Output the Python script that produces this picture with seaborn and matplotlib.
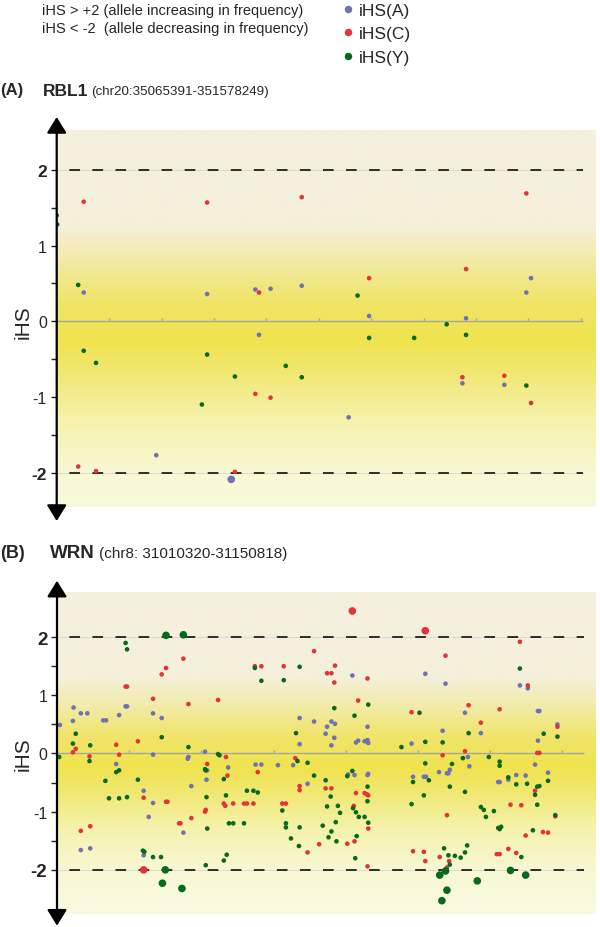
import numpy as np
import pandas as pd
import matplotlib
matplotlib.use('Agg')
import matplotlib.pyplot as plt
import seaborn as sns
from matplotlib.colors import LinearSegmentedColormap
from matplotlib.lines import Line2D

sns.set_style('white')
plt.rcParams['font.family'] = ['Liberation Sans', 'DejaVu Sans']
plt.rcParams['lines.scale_dashes'] = False

# ---------------- data ----------------
allele_labels = ['iHS(A)', 'iHS(C)', 'iHS(Y)']
allele_colors = ['#7070B4', '#E5323A', '#07691B']

# (A) RBL1: (position along gene in tick units, iHS)
rbl1_a = [(0.515, 0.38), (2.87, 0.36), (3.79, 0.42), (4.08, 0.43), (4.675, 0.47),
          (9.05, 0.57), (8.96, 0.38), (5.96, 0.07), (7.81, 0.04), (1.90, -1.77),
          (3.33, -2.09), (3.86, -0.18), (5.57, -1.27), (7.74, -0.82), (8.54, -0.84)]
rbl1_c = [(0.515, 1.58), (2.87, 1.57), (3.86, 0.38), (4.675, 1.64), (8.96, 1.69),
          (7.81, 0.69), (5.96, 0.57), (0.41, -1.92), (0.75, -1.98), (3.40, -1.99),
          (3.79, -0.96), (4.08, -1.01), (7.74, -0.74), (8.54, -0.72), (9.05, -1.08)]
rbl1_y = [(0.00, 1.40), (0.01, 1.28), (0.41, 0.48), (5.74, 0.34), (7.44, -0.04),
          (0.515, -0.39), (0.75, -0.55), (2.77, -1.10), (2.87, -0.44), (3.40, -0.73),
          (4.37, -0.59), (4.675, -0.74), (5.96, -0.22), (6.82, -0.22), (7.81, -0.18),
          (8.96, -0.85)]

# (B) WRN
wrn_a = [(0.04, 0.49), (0.23, 0.79), (0.22, 0.56), (0.33, 0.69), (0.42, 0.69),
         (0.64, 0.57), (0.68, 0.57), (0.86, 0.66), (0.95, 0.81), (0.97, 0.81),
         (1.33, 0.69), (1.45, 0.61), (3.36, 0.61), (3.36, 0.16),
         (0.33, -1.66), (0.46, -1.63), (0.82, -0.18), (1.20, -0.64), (1.27, -1.09),
         (1.20, -1.75), (1.33, -0.02), (1.33, -0.85), (1.75, -1.36), (1.82, -0.06),
         (1.81, -0.09), (1.86, -0.56), (2.05, 0.03), (2.08, -0.29), (2.07, -0.45),
         (2.37, -0.24), (2.75, -0.19), (2.83, -0.19), (3.06, -0.20), (3.27, -0.20),
         (3.56, 0.55), (3.80, 0.55), (3.85, 0.51), (3.74, 0.46), (3.72, 0.34),
         (3.84, 0.27), (3.80, 0.14), (4.09, 1.34), (4.30, 0.46), (4.14, 0.19),
         (4.17, 0.22), (4.26, 0.21), (4.30, 0.23), (4.31, 0.18), (4.91, 0.17),
         (5.10, 1.37), (5.38, 1.20), (5.34, 0.39), (5.65, 0.70), (5.87, 0.35),
         (6.41, 1.17), (6.52, 1.12), (6.66, 0.73), (6.68, 0.73), (6.66, 0.22),
         (6.93, 0.50),
         (5.69, -0.06), (5.71, -0.22), (5.44, -0.28), (5.40, -0.34), (5.42, -0.34),
         (5.29, -0.32), (5.08, -0.40), (5.11, -0.40), (4.93, -0.40), (6.11, -0.49),
         (6.13, -0.49), (6.25, -0.45), (6.36, -0.37), (6.49, -0.38), (6.80, -0.33),
         (6.62, -0.19),
         (3.47, -0.52), (4.03, -0.36), (4.12, -0.37), (4.30, -0.37), (4.31, -0.35)]
wrn_c = [(0.22, 0.02), (0.26, 0.08), (0.82, 0.15), (0.95, 1.15), (0.97, 1.15),
         (1.12, 0.21), (1.33, 0.94), (1.75, 1.63), (1.51, 1.47), (1.45, 1.36),
         (1.82, 0.85), (2.23, 0.92), (2.74, 1.50), (2.83, 1.50), (3.14, 1.50),
         (0.45, -0.05), (0.33, -1.33), (0.46, -1.25), (0.86, -0.02), (1.20, -0.76),
         (1.20, -2.00), (1.51, -0.83), (1.53, -0.83), (1.69, -1.20), (1.71, -1.20),
         (1.86, -1.11), (2.08, -0.18), (2.06, -0.97), (2.05, -1.00), (2.34, -0.06),
         (2.36, -0.38), (2.31, -0.86), (2.33, -0.90), (2.44, -0.86), (2.59, -0.86),
         (2.63, -0.86), (2.72, -0.86), (2.78, -0.32), (3.30, -0.08), (3.12, -0.86),
         (3.17, -0.86), (3.36, -0.56), (3.36, -0.63),
         (3.56, 1.76), (3.74, 1.38), (3.80, 1.38), (3.85, 1.51), (3.84, 1.22),
         (4.09, 2.45), (4.30, 1.29), (4.17, 0.91), (4.91, 0.71), (5.10, 2.11),
         (5.38, 1.68), (5.70, 0.83), (5.87, 0.53), (6.13, 0.76), (6.41, 1.92),
         (6.52, 1.17), (6.93, 0.46),
         (5.34, -0.03), (5.65, 0.04), (5.40, -1.06), (4.93, -1.68), (5.08, -1.69),
         (5.10, -1.85), (5.30, -1.78), (5.43, -1.85), (5.40, -1.96), (6.28, -0.88),
         (6.43, -0.89), (6.09, -1.73), (6.13, -1.73), (6.25, -1.64), (6.36, -1.71),
         (6.49, -1.41), (6.73, -1.35), (6.80, -1.36), (6.62, -0.64), (6.65, 0.01),
         (6.68, 0.01), (6.90, -1.08),
         (3.47, -1.70), (3.63, -1.56), (3.72, -0.60), (3.80, -0.60), (4.14, -0.68),
         (4.11, -0.90), (4.26, -0.68), (4.29, -0.70), (4.31, -0.72), (4.31, -1.29),
         (4.12, -1.51), (4.02, -1.55), (4.30, -1.94)]
wrn_y = [(0.26, 0.34), (0.22, 0.17), (0.46, 0.14), (0.95, 1.90), (0.97, 1.79),
         (1.51, 2.03), (1.75, 2.04), (1.45, 0.28), (1.82, 0.11), (2.74, 1.47),
         (2.83, 1.25), (3.14, 1.26), (3.36, 1.49), (3.31, 0.35),
         (0.03, -0.06), (0.45, -0.13), (0.67, -0.47), (0.72, -0.77), (0.82, -0.32),
         (0.86, -0.29), (0.86, -0.77), (0.97, -0.75), (1.12, -0.45), (1.19, -1.67),
         (1.21, -1.69), (1.33, -1.78), (1.44, -1.78), (1.50, -2.00), (1.46, -2.23),
         (1.73, -2.32), (2.05, -0.27), (2.06, -0.29), (2.07, -0.75), (2.08, -1.29),
         (2.06, -1.92), (2.23, -0.01), (2.25, -0.03), (2.31, -0.44), (2.34, -0.72),
         (2.38, -1.20), (2.44, -1.20), (2.31, -1.84), (2.35, -1.74), (2.59, -1.20),
         (2.63, -0.64), (2.72, -0.64), (2.78, -0.67), (3.33, -0.13), (3.12, -0.98),
         (3.17, -1.20), (3.17, -1.27), (3.24, -1.46), (3.35, -1.59), (3.36, -1.27),
         (3.84, 0.78), (4.31, 0.84), (4.12, 0.65), (4.77, 0.11), (5.02, 0.70),
         (5.10, 0.20), (5.34, 0.19), (5.70, 0.35), (6.41, 1.46), (6.74, 0.34),
         (6.93, 0.29),
         (5.62, -0.08), (5.98, -0.06), (5.47, -0.18), (5.10, -0.17), (4.93, -0.49),
         (5.15, -0.46), (5.08, -0.72), (4.91, -0.87), (5.44, -0.57), (5.65, -0.66),
         (5.36, -1.63), (5.42, -1.75), (5.51, -1.76), (5.59, -1.79), (5.65, -1.70),
         (5.68, -1.58), (5.44, -1.91), (5.30, -2.09), (5.38, -2.02), (5.40, -2.35),
         (5.33, -2.53), (5.82, -2.19), (6.28, -2.01), (6.49, -2.09), (5.87, -0.92),
         (5.91, -0.97), (5.94, -1.09), (6.05, -0.99), (6.13, -0.14), (6.13, -0.21),
         (6.25, -0.41), (6.36, -0.53), (6.51, -0.52), (6.11, -1.28), (6.13, -1.30),
         (6.15, -1.26), (6.43, -1.78), (6.59, -1.32), (6.65, -0.88), (6.62, -0.71),
         (6.65, -0.57), (6.68, -0.56), (6.80, -0.47), (6.90, -1.06),
         (3.47, -0.16), (3.56, -0.38), (3.68, -1.24), (3.72, -0.46), (3.79, -0.74),
         (3.74, -0.91), (3.89, -0.90), (3.92, -1.02), (3.86, -1.18), (3.80, -1.34),
         (3.76, -1.44), (3.87, -1.51), (4.02, -0.39), (4.09, -0.30), (4.10, -0.94),
         (4.14, -1.01), (4.18, -1.09), (4.26, -1.09), (4.30, -0.57), (4.30, -0.82),
         (4.31, -1.19), (4.15, -1.42), (4.13, -1.80)]

rbl1_ticks = list(range(1, 11))
wrn_ticks = list(range(1, 8))
ytick_vals = [-2, -1, 0, 1, 2]
ytick_labels = ['-2', '-1', '0', '1', '2']
minor_vals = [-1.5, -0.5, 0.5, 1.5]


def make_frame(groups):
    parts = []
    for label, pts in zip(allele_labels, groups):
        d = pd.DataFrame(pts, columns=['pos', 'ihs'])
        d['allele'] = label
        parts.append(d)
    df = pd.concat(parts, ignore_index=True)
    df['mark'] = np.where(df['ihs'].abs() >= 2, 'outer', 'inner')
    return df


df_a = make_frame([rbl1_a, rbl1_c, rbl1_y])
df_b = make_frame([wrn_a, wrn_c, wrn_y])

# ---------------- style ----------------
W, H = 600, 928
fig = plt.figure(figsize=(W / 100, H / 100), dpi=100)

grad_stops = [(-2.9, '#F8FBE2'), (-2.0, '#F7F8D3'), (-1.3, '#F5F2AC'),
              (-0.7, '#F1E874'), (-0.25, '#EFE34E'), (0.3, '#F0E56A'),
              (0.8, '#F2EBA6'), (1.3, '#F4F0DA'), (2.9, '#F4F0DF')]
bg_cmap = LinearSegmentedColormap.from_list(
    'bg', [((y - grad_stops[0][0]) / (grad_stops[-1][0] - grad_stops[0][0]), c)
           for y, c in grad_stops])


def panel(df, rect, xmax, line_end, ylim, bg_lim, ticks, ppu, big_labels):
    left, top, right, bottom = rect
    ax = fig.add_axes([left / W, 1 - bottom / H, (right - left) / W, (bottom - top) / H])
    ax.set_facecolor('none')
    lo, hi = bg_lim
    grad = np.linspace(lo, hi, 400).reshape(-1, 1)
    ax.imshow(grad, extent=[0, xmax, lo, hi], origin='lower', aspect='auto',
              cmap=bg_cmap, vmin=grad_stops[0][0], vmax=grad_stops[-1][0], zorder=0)
    # zero line with small ticks
    ax.hlines(0, 0, line_end, color='#A6A6A6', lw=1.0, zorder=1)
    ax.vlines(ticks, 0, 3.0 / ppu, color='#A6A6A6', lw=1.0, zorder=1)
    # +/-2 thresholds
    ax.hlines([-2, 2], 0, line_end, color='#D8D8C8', lw=0.6, zorder=1)
    ax.hlines([-2, 2], 0, line_end, color='#1E1E1E', lw=1.3,
              linestyles=[(7.7, (7.7, 8.9))], zorder=1)
    sns.scatterplot(data=df, x='pos', y='ihs', hue='allele', hue_order=allele_labels,
                    palette=allele_colors, size='mark',
                    sizes={'inner': 11, 'outer': 30}, linewidth=0,
                    legend=False, ax=ax, zorder=3)
    ax.set_xlim(0, xmax)
    ax.set_ylim(*ylim)
    for s in ax.spines.values():
        s.set_visible(False)
    ax.set_xticks([])
    ax.set_xlabel('')
    ax.set_ylabel('')
    ax.set_yticks(ytick_vals, labels=ytick_labels)
    ax.set_yticks(minor_vals, minor=True)
    ax.tick_params(axis='y', which='both', direction='out', length=4, width=1,
                   color='#222222', pad=3, left=True)
    for lab in ax.get_yticklabels():
        if lab.get_text() in ('2', '-2'):
            lab.set_fontweight('bold')
            lab.set_fontsize(big_labels)
        else:
            lab.set_fontsize(11.5)
    # axis with arrow heads
    ax.annotate('', xy=(0, ylim[1]), xytext=(0, ylim[0]),
                arrowprops=dict(arrowstyle='<|-|>,head_length=0.65,head_width=0.4',
                                color='black', lw=1.6, mutation_scale=15,
                                shrinkA=0, shrinkB=0),
                annotation_clip=False, zorder=4)
    ax.annotate('iHS', xy=(0, 0), xycoords=('axes fraction', 'data'),
                xytext=(-24.5, 0), textcoords='offset points', rotation=90,
                ha='center', va='center', fontsize=15)
    return ax


# panel A: y=0 at 322.3 px, 75.7 px per unit
ax_a = panel(df_a, (56.7, 118.0, 595.0, 522.0), 10.27, 10.04, (-2.64, 2.70),
             (-2.45, 2.53), rbl1_ticks, 75.7, 12.5)
# panel B: y=0 at 754.3 px, 58.2 px per unit
ax_b = panel(df_b, (57.0, 581.7, 595.7, 926.7), 7.46, 7.30, (-2.96, 2.97),
             (-2.76, 2.77), wrn_ticks, 58.2, 13.5)


# ---------------- texts ----------------
def ftext(xp, yp, s, **kw):
    fig.text(xp / W, 1 - yp / H, s, va='center', ha='left', **kw)


ftext(41.7, 11, 'iHS > +2 (allele increasing in frequency)', fontsize=10.5)
ftext(41.7, 29, 'iHS < -2  (allele decreasing in frequency)', fontsize=10.5)

ftext(0, 91, '(A)', fontsize=12, fontweight='bold')
ftext(43, 91, 'RBL1', fontsize=12.5, fontweight='bold')
ftext(90.7, 92, '(chr20:35065391-351578249)', fontsize=9.6)

ftext(0, 553, '(B)', fontsize=13, fontweight='bold')
ftext(50, 553, 'WRN', fontsize=13.5, fontweight='bold')
ftext(98.7, 554, '(chr8: 31010320-31150818)', fontsize=11)

handles = [Line2D([], [], marker='o', linestyle='', markersize=5.4, color=c,
                  markeredgewidth=0) for c in allele_colors]
fig.legend(handles, allele_labels, loc='upper left',
           bbox_to_anchor=(341 / W, 1 - 3.5 / H),
           frameon=False, fontsize=12.5, handlelength=0.8, handletextpad=0.25,
           labelspacing=0.5, borderpad=0, borderaxespad=0)

fig.savefig('out.png', dpi=100)
